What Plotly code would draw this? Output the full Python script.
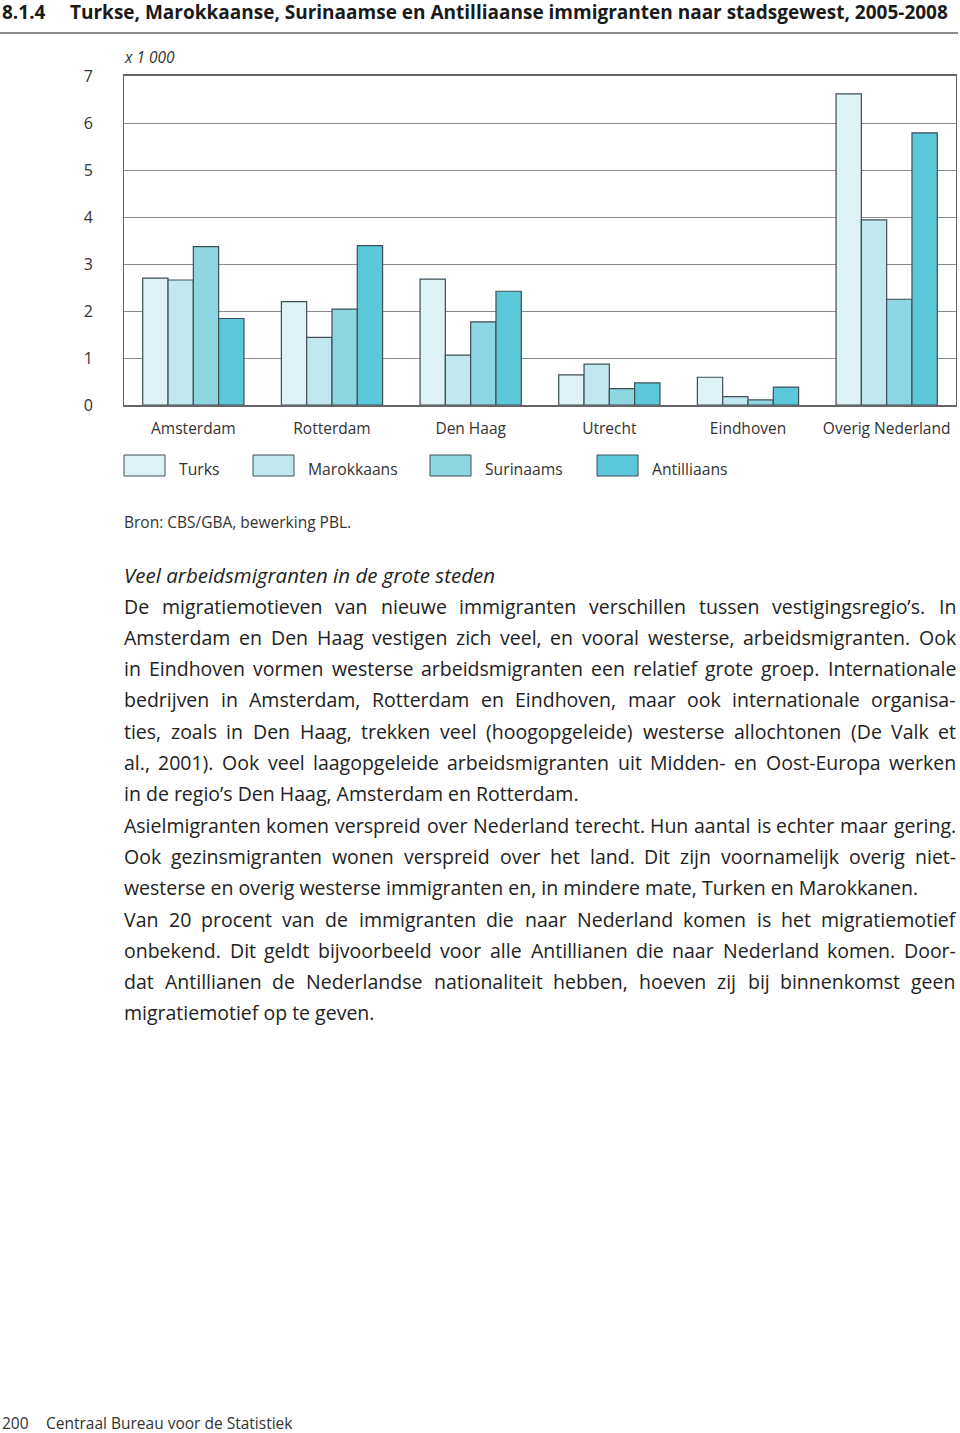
import plotly.graph_objects as go

# data (x 1 000)
stadsgewesten = ['Amsterdam', 'Rotterdam', 'Den Haag', 'Utrecht', 'Eindhoven', 'Overig Nederland']
turks = [2.70, 2.20, 2.68, 0.64, 0.59, 6.62]
marokkaans = [2.66, 1.44, 1.06, 0.87, 0.18, 3.94]
surinaams = [3.37, 2.04, 1.77, 0.35, 0.11, 2.25]
antilliaans = [1.84, 3.39, 2.42, 0.47, 0.38, 5.79]
y_ticks = [0, 1, 2, 3, 4, 5, 6, 7]

groepen = ['Turks', 'Marokkaans', 'Surinaams', 'Antilliaans']
kleuren = ['#dff3f7', '#c1e8ef', '#8fd6e3', '#5bc8da']
reeksen = [turks, marokkaans, surinaams, antilliaans]

titel = 'Turkse, Marokkaanse, Surinaamse en Antilliaanse immigranten naar stadsgewest, 2005-2008'
kop = 'Veel arbeidsmigranten in de grote steden'
# (regel, uitgevuld?)
regels = [
    ('De migratiemotieven van nieuwe immigranten verschillen tussen vestigingsregio’s. In', True),
    ('Amsterdam en Den Haag vestigen zich veel, en vooral westerse, arbeidsmigranten. Ook', True),
    ('in Eindhoven vormen westerse arbeidsmigranten een relatief grote groep. Internationale', True),
    ('bedrijven in Amsterdam, Rotterdam en Eindhoven, maar ook internationale organisa-', True),
    ('ties, zoals in Den Haag, trekken veel (hoogopgeleide) westerse allochtonen (De Valk et', True),
    ('al., 2001). Ook veel laagopgeleide arbeidsmigranten uit Midden- en Oost-Europa werken', True),
    ('in de regio’s Den Haag, Amsterdam en Rotterdam.', False),
    ('Asielmigranten komen verspreid over Nederland terecht. Hun aantal is echter maar gering.', True),
    ('Ook gezinsmigranten wonen verspreid over het land. Dit zijn voornamelijk overig niet-', True),
    ('westerse en overig westerse immigranten en, in mindere mate, Turken en Marokkanen.', False),
    ('Van 20 procent van de immigranten die naar Nederland komen is het migratiemotief', True),
    ('onbekend. Dit geldt bijvoorbeeld voor alle Antillianen die naar Nederland komen. Door-', True),
    ('dat Antillianen de Nederlandse nationaliteit hebben, hoeven zij bij binnenkomst geen', True),
    ('migratiemotief op te geven.', False),
]

W, H = 960, 1433
L, R, T, B = 124, 956, 76, 405   # plot area in pixels
FONT = 'Open Sans'

# rough Open Sans advance widths (em), used to justify the body text
BREEDTE = dict(zip('abcdefghijklmnopqrstuvwxyz',
                   [.556, .613, .476, .613, .561, .339, .548, .614, .253, .253, .525, .253, .930,
                    .614, .604, .613, .613, .408, .477, .353, .614, .501, .778, .524, .502, .477]))
BREEDTE.update({'A': .633, 'D': .722, 'E': .556, 'H': .738, 'I': .279, 'M': .903, 'N': .748,
                'O': .778, 'R': .617, 'T': .557, 'V': .583, '.': .266, ',': .244, '’': .174,
                '(': .288, ')': .288, '-': .322})
for c in '0123456789':
    BREEDTE[c] = .572


def px(x):
    return (x - L) / (R - L)


def py(y):
    return (B - y) / (B - T)


fig = go.Figure()
for naam, waarden, kleur in zip(groepen, reeksen, kleuren):
    fig.add_trace(go.Bar(
        x=stadsgewesten, y=waarden, name=naam,
        marker=dict(color=kleur, line=dict(color='#3e4f54', width=1.2)),
        showlegend=False,
    ))

annotations = []
shapes = []


def tekst(x, y, s, size, anchor='left', **font):
    annotations.append(dict(
        x=px(x), y=py(y), xref='paper', yref='paper', text=s, showarrow=False,
        xanchor=anchor, yanchor='middle', xshift=-2 if anchor == 'left' else 0,
        font=dict(family=FONT, size=size, color=font.pop('color', '#222222'), **font),
    ))


# title and rule
tekst(2, 12, '<b>8.1.4</b>', 19, color='#1a1a1a')
tekst(70, 12, '<b>' + titel + '</b>', 19, color='#1a1a1a')
shapes.append(dict(type='line', xref='paper', yref='paper',
                   x0=px(0), x1=px(958), y0=py(33), y1=py(33),
                   line=dict(color='#8c8c8c', width=2)))

tekst(124, 57, '<i>x 1 000</i>', 15.5, color='#333333')

# legend with wide boxes
leg_x = [124, 253, 430, 597]
for naam, kleur, x0 in zip(groepen, kleuren, leg_x):
    shapes.append(dict(type='rect', xref='paper', yref='paper',
                       x0=px(x0), x1=px(x0 + 41), y0=py(476), y1=py(455),
                       fillcolor=kleur, line=dict(color='#3e4f54', width=1)))
    tekst(x0 + 55, 469, naam, 15.7, color='#333333')

tekst(124, 522, 'Bron: CBS/GBA, bewerking PBL.', 15.5, color='#333333')

# body text, justified word by word
tekst(124, 575, '<i>' + kop + '</i>', 20.5)
BODY = 19.5
for i, (regel, uitgevuld) in enumerate(regels):
    y = 606 + i * 31.3
    if not uitgevuld:
        tekst(124, y, regel, BODY)
        continue
    woorden = regel.split(' ')
    breedtes = [sum(BREEDTE.get(c, .55) for c in w) * BODY for w in woorden]
    gat = (R - L - sum(breedtes)) / (len(woorden) - 1)
    x = L
    for w, b in zip(woorden, breedtes):
        tekst(x, y, w, BODY)
        x += b + gat

# footer
tekst(2, 1423, '200', 15.5, color='#333333')
tekst(46, 1423, 'Centraal Bureau voor de Statistiek', 15.5, color='#333333')

fig.update_layout(
    width=W, height=H,
    margin=dict(l=L, r=W - R, t=T, b=H - B, pad=0),
    barmode='group', bargap=0.27, bargroupgap=0,
    plot_bgcolor='white', paper_bgcolor='white',
    font=dict(family=FONT, color='#333333'),
    xaxis=dict(
        showgrid=False, ticks='', tickfont=dict(size=15.5, color='#333333'),
        showline=True, linecolor='#666666', linewidth=1.5, mirror=True,
        ticklabelstandoff=9,
    ),
    yaxis=dict(
        range=[0, 7], tickvals=y_ticks, ticks='',
        tickfont=dict(size=16, color='#333333'),
        showgrid=True, gridcolor='#8a8a8a', gridwidth=1, zeroline=False,
        showline=True, linecolor='#666666', linewidth=1, mirror=True,
        ticklabelstandoff=27,
    ),
    annotations=annotations,
    shapes=shapes,
)

# page without the browser's default body margin, no modebar
fig.write_html('out.html', config={'displayModeBar': False},
               post_script="document.body.style.margin='0';")
